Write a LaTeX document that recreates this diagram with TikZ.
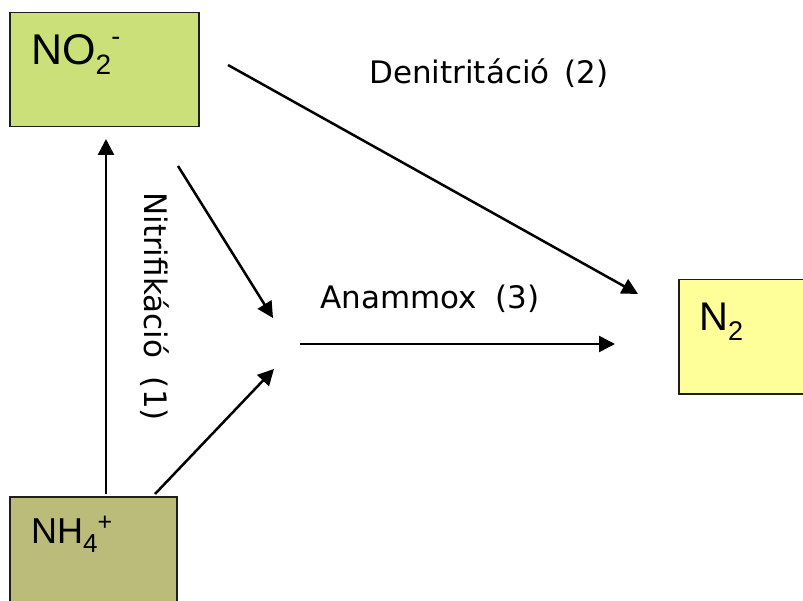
\documentclass[tikz,border=0pt]{standalone}
\usepackage{fontspec}
\setmainfont{DejaVu Sans}
\newfontfamily\arialf{Liberation Sans}
\usetikzlibrary{arrows.meta}
\definecolor{no2green}{RGB}{204,224,122}
\definecolor{nh4olive}{RGB}{187,187,122}
\definecolor{n2yellow}{RGB}{255,255,153}
\definecolor{boxedge}{RGB}{30,30,30}
\tikzset{
  chembox/.style={draw=boxedge, line width=1.5pt, anchor=north west, inner sep=0pt},
  formula/.style={anchor=base west, inner sep=0pt, font=\arialf},
  lbl/.style={inner sep=0pt, font=\fontsize{31}{36}\selectfont},
  arr/.style={line width=2.5pt, -{Triangle[length=16pt,width=16pt]}}
}
\begin{document}
\begin{tikzpicture}[x=1pt,y=-1pt]
\useasboundingbox (0,0) rectangle (803,601);
% boxes
\node[chembox, fill=no2green, minimum width=189pt, minimum height=114pt] (no2) at (9,12) {};
\node[chembox, fill=nh4olive, minimum width=167pt, minimum height=120pt] (nh4) at (9,496) {};
\node[chembox, fill=n2yellow, minimum width=140pt, minimum height=114pt] (n2) at (678,279) {};
% formulas
\node[formula] (no2t) at (31,65) {\fontsize{43}{48}\selectfont NO\raisebox{-10pt}{\fontsize{28}{30}\selectfont 2}\raisebox{19pt}{\fontsize{27}{30}\selectfont -}};
\node[formula] (nh4t) at (31,543) {\fontsize{36}{42}\selectfont NH\raisebox{-9pt}{\fontsize{26}{28}\selectfont 4}\raisebox{13pt}{\fontsize{25}{28}\selectfont +}};
\node[formula] (n2t) at (699,331) {\fontsize{40}{46}\selectfont N\raisebox{-10pt}{\fontsize{27}{30}\selectfont 2}};
% labels
\node[lbl, anchor=base west] (den) at (369,84) {Denitritáció\hspace{5pt} (2)};
\node[lbl, anchor=base west] (ana) at (320,309) {Anammox\hspace{9pt} (3)};
\node[lbl, anchor=base west, rotate=-90] (nit) at (144,192) {Nitrifikáció\hspace{9pt} (1)};
% connector end points
\coordinate (c1s) at (106,494);
\coordinate (c1e) at (106,139);
\coordinate (c2s) at (155,494);
\coordinate (c2e) at (274,369);
\coordinate (c3s) at (178,166);
\coordinate (c3e) at (273,318);
\coordinate (c4s) at (228,65);
\coordinate (c4e) at (638,294);
\coordinate (c5s) at (300,344);
\coordinate (c5e) at (615,344);
\draw[arr] (c1s) -- (c1e);
\draw[arr] (c2s) -- (c2e);
\draw[arr] (c3s) -- (c3e);
\draw[arr] (c4s) -- (c4e);
\draw[arr] (c5s) -- (c5e);
\end{tikzpicture}
\end{document}
